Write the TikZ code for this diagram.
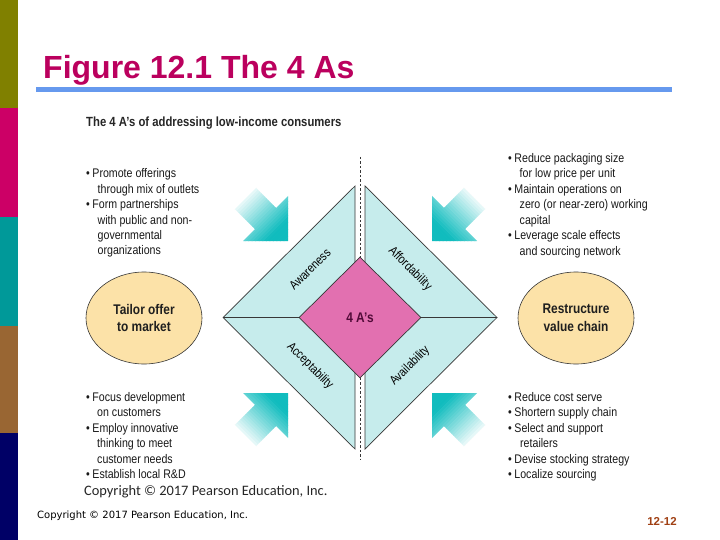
\documentclass[tikz,border=0pt]{standalone}
\usepackage{fontspec}
\setmainfont{Liberation Sans}
\newfontfamily\condf[FakeStretch=0.85]{Liberation Sans}
\newfontfamily\carl{Carlito}
\newfontfamily\dejav{DejaVu Sans}
\usetikzlibrary{shapes.geometric}
\definecolor{barA}{RGB}{128,128,0}
\definecolor{barB}{RGB}{204,0,102}
\definecolor{barC}{RGB}{0,153,153}
\definecolor{barD}{RGB}{153,102,51}
\definecolor{barE}{RGB}{0,0,102}
\definecolor{lineblue}{RGB}{102,153,238}
\definecolor{titlecol}{RGB}{187,0,94}
\definecolor{cyanfill}{RGB}{198,236,236}
\definecolor{pinkfill}{RGB}{226,112,176}
\definecolor{ellfill}{RGB}{252,226,168}
\definecolor{edgecol}{RGB}{55,55,55}
\definecolor{arrowteal}{RGB}{16,188,190}
\definecolor{pagecol}{RGB}{160,64,20}
\definecolor{coretext}{RGB}{80,10,55}
% gradient arrow: #1,#2 = tip, #3,#4 = signs of the pointing direction
\newcommand\gradarrow[4]{%
\begin{scope}
\clip (#1,#2) -- (#1,{#2-45*#4}) -- ({#1-11.9*#3},{#2-33.1*#4}) -- ({#1-31.9*#3},{#2-53.1*#4}) -- ({#1-53.1*#3},{#2-31.9*#4}) -- ({#1-33.1*#3},{#2-11.9*#4}) -- ({#1-45*#3},#2) -- cycle;
\foreach \i in {0,...,27}{%
\pgfmathsetmacro\ua{\i*2.5}%
\pgfmathsetmacro\ub{\i*2.5+3}%
\pgfmathsetmacro\pc{max(0,min(100,100-(\i*2.5-14)*2.05))}%
\fill[arrowteal!\pc!white] ({#1+#3*(-\ua+50)*0.7071},{#2+#4*(-\ua-50)*0.7071}) -- ({#1+#3*(-\ub+50)*0.7071},{#2+#4*(-\ub-50)*0.7071}) -- ({#1+#3*(-\ub-50)*0.7071},{#2+#4*(-\ub+50)*0.7071}) -- ({#1+#3*(-\ua-50)*0.7071},{#2+#4*(-\ua+50)*0.7071}) -- cycle;}
\end{scope}}
\begin{document}
\begin{tikzpicture}[x=1pt,y=-1pt,
  btxt/.style={anchor=base west,inner sep=0pt,font=\condf\fontsize{12.5}{15}\selectfont,text=black!90},
  tri/.style={fill=cyanfill,draw=edgecol,line width=0.7pt,line join=miter},
  edge/.style={draw=edgecol,line width=0.7pt},
  core/.style={shape=diamond,minimum width=122pt,minimum height=121pt,inner sep=0pt,fill=pinkfill,draw=edgecol,line width=0.7pt,text=coretext,font=\condf\bfseries\fontsize{14}{16}\selectfont},
  lab/.style={inner sep=0pt,font=\condf\fontsize{12.5}{14}\selectfont,text=black},
  ell/.style={shape=ellipse,minimum width=116pt,minimum height=92pt,inner sep=0pt,fill=ellfill,draw=edgecol,line width=0.6pt,align=center,font=\condf\bfseries\fontsize{14}{17.5}\selectfont,text=black!88}
]
\useasboundingbox (0,0) rectangle (720,540);
\fill[white] (0,0) rectangle (720,540);
% colour bars
\fill[barA] (0,0) rectangle (18,108);
\fill[barB] (0,108) rectangle (18,217);
\fill[barC] (0,217) rectangle (18,326);
\fill[barD] (0,326) rectangle (18,433);
\fill[barE] (0,433) rectangle (18,540);
% title
\node[anchor=base west,inner sep=0pt,font=\bfseries\fontsize{32}{36}\selectfont,text=titlecol] (title) at (43,79) {Figure 12.1 The 4 As};
\fill[lineblue] (36,87) rectangle (672,92);
\node[anchor=base west,inner sep=0pt,font=\condf\bfseries\fontsize{13.3}{16}\selectfont,text=black!85] (sub) at (86,127) {The 4 A’s of addressing low-income consumers};
% dashed axis
\coordinate (dtop) at (360,157);
\coordinate (dbot) at (360,460);
\draw[edgecol,line width=0.6pt,dash pattern=on 2.5pt off 2pt] (dtop) -- (dbot);
% halves
\coordinate (Ltop) at (355,186);
\coordinate (Lleft) at (223,317.5);
\coordinate (Lbot) at (355,449);
\coordinate (Rtop) at (365,186);
\coordinate (Rright) at (497,317.5);
\coordinate (Rbot) at (365,449);
\filldraw[tri] (Ltop) -- (Lleft) -- (Lbot) -- cycle;
\filldraw[tri] (Rtop) -- (Rright) -- (Rbot) -- cycle;
\node[core] (core) at (360,317.5) {4 A’s};
\draw[edge] (Lleft) -- (core.west);
\draw[edge] (core.east) -- (Rright);
\node[lab,rotate=45] (aw) at (310,269) {Awareness};
\node[lab,rotate=-45] (af) at (410,269) {Affordability};
\node[lab,rotate=-45] (ac) at (310,366) {Acceptability};
\node[lab,rotate=45] (av) at (410,366) {Availability};
% arrows
\gradarrow{288}{241}{1}{1}
\gradarrow{432}{241}{-1}{1}
\gradarrow{288}{393}{1}{-1}
\gradarrow{432}{393}{-1}{-1}
% ellipses
\node[ell] (tailor) at (144,318) {Tailor offer\\to market};
\node[ell] (restr) at (576,318) {Restructure\\value chain};
% left top bullets
\node[btxt] (lt1) at (86,178) {\textbullet\hspace{2.5pt}Promote offerings};
\node[btxt] (lt2) at (97.5,193.4) {through mix of outlets};
\node[btxt] (lt3) at (86,208.7) {\textbullet\hspace{2.5pt}Form partnerships};
\node[btxt] (lt4) at (97.5,224.1) {with public and non-};
\node[btxt] (lt5) at (97.5,239.4) {governmental};
\node[btxt] (lt6) at (97.5,254.8) {organizations};
% right top bullets
\node[btxt] (rt1) at (508,162.5) {\textbullet\hspace{2.5pt}Reduce packaging size};
\node[btxt] (rt2) at (519.5,178) {for low price per unit};
\node[btxt] (rt3) at (508,193.4) {\textbullet\hspace{2.5pt}Maintain operations on};
\node[btxt] (rt4) at (519.5,208.9) {zero (or near-zero) working};
\node[btxt] (rt5) at (519.5,224.3) {capital};
\node[btxt] (rt6) at (508,239.8) {\textbullet\hspace{2.5pt}Leverage scale effects};
\node[btxt] (rt7) at (519.5,255.2) {and sourcing network};
% left bottom bullets
\node[btxt] (lb1) at (86,401.5) {\textbullet\hspace{2.5pt}Focus development};
\node[btxt] (lb2) at (97,416.9) {on customers};
\node[btxt] (lb3) at (86,432.3) {\textbullet\hspace{2.5pt}Employ innovative};
\node[btxt] (lb4) at (97,447.7) {thinking to meet};
\node[btxt] (lb5) at (97,463.1) {customer needs};
\node[btxt] (lb6) at (86,478.5) {\textbullet\hspace{2.5pt}Establish local R\&D};
% right bottom bullets
\node[btxt] (rb1) at (508,401.5) {\textbullet\hspace{2.5pt}Reduce cost serve};
\node[btxt] (rb2) at (508,416.9) {\textbullet\hspace{2.5pt}Shortern supply chain};
\node[btxt] (rb3) at (508,432.3) {\textbullet\hspace{2.5pt}Select and support};
\node[btxt] (rb4) at (520,447.7) {retailers};
\node[btxt] (rb5) at (508,463.1) {\textbullet\hspace{2.5pt}Devise stocking strategy};
\node[btxt] (rb6) at (508,478.5) {\textbullet\hspace{2.5pt}Localize sourcing};
% copyrights
\node[anchor=base west,inner sep=0pt,font=\carl\fontsize{14.4}{16}\selectfont,text=black!85] (cpy) at (84,495) {Copyright © 2017 Pearson Education, Inc.};
\node[anchor=base west,inner sep=0pt,font=\dejav\fontsize{10}{12}\selectfont] (foot) at (37,518) {Copyright © 2017 Pearson Education, Inc.};
\node[inner sep=0pt,font=\bfseries\fontsize{11.5}{13}\selectfont,text=pagecol] (page) at (662,521) {12-12};
\end{tikzpicture}
\end{document}
